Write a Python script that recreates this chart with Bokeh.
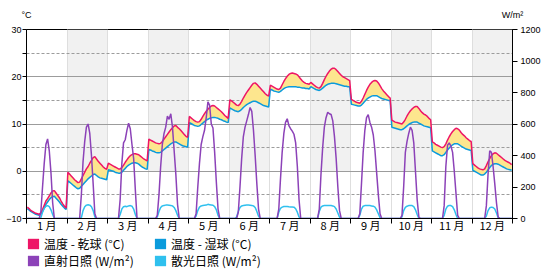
import numpy as np
from bokeh.plotting import figure
from bokeh.layouts import column
from bokeh.models import (Range1d, LinearAxis, FixedTicker, ColumnDataSource,
                          Legend, LegendItem)
from bokeh.embed import file_html
from bokeh.resources import INLINE

# ---------------- data ----------------
month_labels = ["1 月", "2 月", "3 月", "4 月", "5 月", "6 月",
                "7 月", "8 月", "9 月", "10 月", "11 月", "12 月"]
shaded_months = [2, 4, 6, 8, 10, 12]
left_ticks = [-10, 0, 10, 20, 30]
left_minor_ticks = [-5, 5, 15, 25]
right_ticks = [0, 200, 400, 600, 800, 1000, 1200]
unit_labels = ["°C", "W/m²"]

# hourly (0..23) mean daily profile per month
dry_bulb = [
    [-7.6, -7.9, -8.3, -8.5, -8.7, -8.9, -9.0, -9.1, -8.8, -8.1, -7.2, -6.3, -5.8, -5.2, -4.6, -4.2, -4.1, -4.6, -5.1, -5.6, -6.3, -6.9, -7.4, -7.8],
    [-0.2, -0.6, -1.0, -1.4, -1.8, -2.1, -2.4, -2.3, -1.6, -0.9, -0.2, 0.5, 1.0, 1.7, 2.3, 2.9, 3.1, 2.6, 2.1, 1.7, 1.3, 0.9, 0.6, 0.4],
    [1.7, 1.5, 1.3, 1.1, 0.9, 0.7, 0.5, 0.5, 0.8, 1.3, 1.9, 2.4, 2.9, 3.3, 3.5, 3.7, 3.7, 3.6, 3.5, 3.2, 2.9, 2.6, 2.4, 2.2],
    [6.8, 6.6, 6.4, 6.2, 6.0, 5.9, 5.8, 5.9, 6.3, 6.8, 7.3, 7.8, 8.3, 8.8, 9.2, 9.6, 9.7, 9.3, 9.0, 8.6, 8.2, 7.8, 7.4, 7.2],
    [11.6, 11.3, 11.0, 10.7, 10.5, 10.4, 10.5, 11.0, 11.6, 12.2, 12.7, 13.1, 13.5, 13.8, 13.9, 13.8, 13.5, 13.2, 12.9, 12.6, 12.2, 11.8, 11.5, 11.2],
    [15.1, 14.9, 14.6, 14.3, 14.0, 13.9, 14.2, 14.8, 15.5, 16.1, 16.7, 17.2, 17.7, 18.2, 18.6, 18.7, 18.4, 18.0, 17.6, 17.2, 16.8, 16.4, 16.1, 15.9],
    [18.2, 18.0, 17.8, 17.6, 17.4, 17.3, 17.6, 18.3, 19.0, 19.6, 20.1, 20.5, 20.7, 20.8, 20.7, 20.6, 20.4, 20.0, 19.5, 19.1, 18.8, 18.6, 18.5, 18.4],
    [18.8, 18.5, 18.2, 17.9, 17.7, 17.6, 17.9, 18.6, 19.4, 20.1, 20.7, 21.2, 21.6, 21.8, 21.8, 21.5, 21.1, 20.7, 20.3, 20.0, 19.8, 19.6, 19.4, 19.2],
    [15.2, 15.0, 14.8, 14.6, 14.5, 14.4, 14.8, 15.5, 16.3, 17.1, 17.8, 18.4, 18.8, 19.1, 19.2, 19.1, 18.7, 18.1, 17.5, 17.0, 16.6, 16.2, 15.8, 15.5],
    [10.8, 10.6, 10.4, 10.3, 10.2, 10.1, 10.0, 10.4, 11.0, 11.7, 12.3, 12.8, 13.2, 13.5, 13.7, 13.7, 13.3, 12.8, 12.4, 12.1, 11.9, 11.6, 11.2, 10.9],
    [6.2, 6.0, 5.7, 5.5, 5.3, 5.1, 5.0, 5.2, 5.8, 6.6, 7.3, 7.9, 8.4, 8.8, 9.1, 9.0, 8.7, 8.2, 7.8, 7.5, 7.1, 6.8, 6.5, 6.3],
    [1.6, 1.3, 1.0, 0.7, 0.5, 0.4, 0.3, 0.5, 1.2, 2.0, 2.7, 3.3, 3.7, 3.9, 3.8, 3.5, 3.2, 2.9, 2.6, 2.3, 2.1, 1.9, 1.7, 1.4],
]
wet_bulb = [
    [-7.9, -8.2, -8.5, -8.7, -8.9, -9.1, -9.2, -9.3, -9.0, -8.5, -7.8, -7.0, -6.5, -6.0, -5.6, -5.4, -5.3, -5.7, -6.1, -6.5, -7.0, -7.4, -7.8, -8.1],
    [-2.0, -2.3, -2.6, -2.9, -3.2, -3.5, -3.7, -3.6, -3.2, -2.8, -2.4, -2.0, -1.6, -1.3, -1.0, -0.7, -0.6, -0.9, -1.2, -1.4, -1.5, -1.6, -1.7, -1.8],
    [0.3, 0.2, 0.1, 0.0, -0.2, -0.3, -0.4, -0.4, -0.2, 0.2, 0.6, 1.0, 1.3, 1.5, 1.7, 1.8, 1.8, 1.7, 1.5, 1.2, 0.9, 0.7, 0.5, 0.4],
    [4.6, 4.5, 4.3, 4.2, 4.0, 3.9, 3.9, 4.0, 4.3, 4.6, 4.9, 5.2, 5.5, 5.8, 6.0, 6.2, 6.2, 6.0, 5.8, 5.6, 5.4, 5.3, 5.2, 5.1],
    [10.3, 10.1, 9.9, 9.7, 9.6, 9.5, 9.6, 9.9, 10.2, 10.5, 10.8, 11.0, 11.2, 11.3, 11.4, 11.4, 11.3, 11.2, 11.0, 10.9, 10.7, 10.6, 10.4, 10.3],
    [13.4, 13.2, 13.0, 12.8, 12.7, 12.6, 12.8, 13.1, 13.5, 13.8, 14.1, 14.3, 14.5, 14.7, 14.8, 14.8, 14.7, 14.5, 14.3, 14.1, 13.9, 13.8, 13.7, 13.6],
    [17.4, 17.2, 17.0, 16.9, 16.8, 16.7, 16.9, 17.2, 17.5, 17.7, 17.8, 17.9, 17.9, 17.9, 17.9, 17.9, 17.8, 17.8, 17.7, 17.6, 17.6, 17.5, 17.5, 17.4],
    [17.9, 17.7, 17.5, 17.3, 17.2, 17.1, 17.3, 17.6, 17.9, 18.2, 18.4, 18.5, 18.6, 18.6, 18.6, 18.5, 18.4, 18.3, 18.2, 18.1, 18.0, 18.0, 17.9, 17.9],
    [14.2, 14.1, 14.0, 13.9, 13.8, 13.8, 14.0, 14.4, 14.8, 15.2, 15.5, 15.7, 15.9, 16.0, 16.0, 16.0, 15.8, 15.6, 15.4, 15.3, 15.2, 15.1, 15.0, 15.0],
    [9.3, 9.2, 9.1, 9.0, 8.9, 8.8, 8.8, 9.0, 9.3, 9.6, 9.9, 10.1, 10.3, 10.4, 10.4, 10.4, 10.2, 10.0, 9.8, 9.6, 9.5, 9.4, 9.3, 9.2],
    [4.3, 4.1, 3.9, 3.7, 3.5, 3.3, 3.3, 3.5, 4.0, 4.5, 4.9, 5.3, 5.6, 5.8, 5.8, 5.8, 5.6, 5.3, 5.1, 4.9, 4.7, 4.6, 4.5, 4.4],
    [0.2, 0.0, -0.2, -0.4, -0.6, -0.8, -0.8, -0.6, -0.2, 0.3, 0.8, 1.2, 1.5, 1.6, 1.6, 1.5, 1.3, 1.1, 0.9, 0.7, 0.5, 0.4, 0.3, 0.2],
]
direct_rad = [
    [0, 0, 0, 0, 0, 0, 0, 0, 40, 200, 350, 470, 505, 430, 290, 100, 0, 0, 0, 0, 0, 0, 0, 0],
    [0, 0, 0, 0, 0, 0, 0, 0, 150, 360, 490, 580, 600, 540, 400, 220, 30, 0, 0, 0, 0, 0, 0, 0],
    [0, 0, 0, 0, 0, 0, 0, 120, 350, 480, 500, 560, 605, 570, 470, 380, 180, 0, 0, 0, 0, 0, 0, 0],
    [0, 0, 0, 0, 0, 20, 150, 330, 470, 540, 580, 650, 630, 665, 580, 430, 280, 90, 0, 0, 0, 0, 0, 0],
    [0, 0, 0, 0, 30, 200, 350, 470, 520, 560, 640, 740, 720, 600, 575, 420, 230, 60, 0, 0, 0, 0, 0, 0],
    [0, 0, 0, 0, 0, 40, 200, 380, 520, 580, 620, 660, 705, 680, 560, 400, 220, 60, 0, 0, 0, 0, 0, 0],
    [0, 0, 0, 0, 0, 60, 250, 420, 540, 610, 633, 590, 570, 555, 535, 480, 330, 120, 0, 0, 0, 0, 0, 0],
    [0, 0, 0, 0, 0, 60, 280, 450, 580, 640, 675, 665, 660, 620, 520, 380, 200, 50, 0, 0, 0, 0, 0, 0],
    [0, 0, 0, 0, 0, 30, 220, 420, 560, 640, 660, 610, 580, 530, 430, 290, 150, 30, 0, 0, 0, 0, 0, 0],
    [0, 0, 0, 0, 0, 0, 20, 200, 420, 490, 540, 580, 560, 480, 300, 120, 10, 0, 0, 0, 0, 0, 0, 0],
    [0, 0, 0, 0, 0, 0, 0, 80, 330, 465, 480, 460, 420, 300, 160, 20, 0, 0, 0, 0, 0, 0, 0, 0],
    [0, 0, 0, 0, 0, 0, 0, 0, 80, 280, 430, 420, 330, 220, 100, 10, 0, 0, 0, 0, 0, 0, 0, 0],
]
diffuse_rad = [
    [0, 0, 0, 0, 0, 0, 0, 0, 5, 40, 65, 78, 82, 75, 55, 25, 0, 0, 0, 0, 0, 0, 0, 0],
    [0, 0, 0, 0, 0, 0, 0, 0, 5, 50, 75, 85, 87, 85, 75, 50, 10, 0, 0, 0, 0, 0, 0, 0],
    [0, 0, 0, 0, 0, 0, 0, 25, 60, 75, 78, 75, 80, 82, 78, 60, 25, 0, 0, 0, 0, 0, 0, 0],
    [0, 0, 0, 0, 0, 10, 45, 70, 80, 83, 85, 85, 84, 83, 80, 70, 50, 20, 0, 0, 0, 0, 0, 0],
    [0, 0, 0, 0, 15, 50, 72, 80, 82, 84, 85, 90, 88, 86, 84, 75, 55, 20, 0, 0, 0, 0, 0, 0],
    [0, 0, 0, 0, 10, 45, 70, 80, 82, 84, 85, 85, 84, 83, 80, 70, 45, 15, 0, 0, 0, 0, 0, 0],
    [0, 0, 0, 0, 0, 40, 65, 72, 76, 77, 76, 74, 73, 73, 72, 62, 40, 10, 0, 0, 0, 0, 0, 0],
    [0, 0, 0, 0, 0, 45, 72, 80, 82, 83, 83, 82, 82, 80, 75, 60, 35, 8, 0, 0, 0, 0, 0, 0],
    [0, 0, 0, 0, 0, 20, 60, 78, 82, 83, 83, 82, 80, 78, 72, 55, 30, 5, 0, 0, 0, 0, 0, 0],
    [0, 0, 0, 0, 0, 0, 10, 50, 70, 78, 82, 83, 82, 75, 55, 25, 0, 0, 0, 0, 0, 0, 0, 0],
    [0, 0, 0, 0, 0, 0, 0, 20, 60, 78, 83, 82, 75, 55, 25, 0, 0, 0, 0, 0, 0, 0, 0, 0],
    [0, 0, 0, 0, 0, 0, 0, 0, 15, 50, 68, 72, 70, 60, 35, 5, 0, 0, 0, 0, 0, 0, 0, 0],
]
series_labels = ["温度 - 乾球 (°C)", "温度 - 湿球 (°C)", "直射日照 (W/m²)", "散光日照 (W/m²)"]

# ---------------- styles ----------------
C_DRY = "#ee1566"
C_WET = "#0b9bdc"
C_DIR = "#8c42b8"
C_DIF = "#2fc0ee"
C_FILL = "#fde68e"
TICK_FONT = "Liberation Sans"
CJK_FONT = "Noto Sans CJK JP"

H = 24
x = np.array([m * H + h + 0.5 for m in range(12) for h in range(H)])
src = ColumnDataSource(dict(
    x=x,
    dry=np.concatenate([np.array(v, float) for v in dry_bulb]),
    wet=np.concatenate([np.array(v, float) for v in wet_bulb]),
    direct=np.concatenate([np.array(v, float) for v in direct_rad]),
    diffuse=np.concatenate([np.array(v, float) for v in diffuse_rad]),
))

p = figure(width=560, height=235, output_backend="svg", toolbar_location=None,
           x_range=Range1d(0, 12 * H), y_range=Range1d(left_ticks[0], left_ticks[-1]),
           min_border_left=26, min_border_right=48, min_border_top=29, min_border_bottom=17)
p.extra_y_ranges = {"rad": Range1d(right_ticks[0], right_ticks[-1])}
p.outline_line_color = "black"
p.outline_line_width = 1
p.background_fill_color = "white"
p.border_fill_color = "white"
p.title.visible = False

# shaded month bands (0 .. 30 °C)
band_src = ColumnDataSource(dict(
    left=[(m - 1) * H for m in shaded_months],
    right=[m * H for m in shaded_months],
))
p.quad(left="left", right="right", bottom=0, top=left_ticks[-1], source=band_src,
       fill_color="#f1f1f1", line_color=None, level="image")

# temperature
p.varea(x="x", y1="wet", y2="dry", source=src, fill_color=C_FILL)
p.line("x", "wet", source=src, line_color=C_WET, line_width=1.5)
p.line("x", "dry", source=src, line_color=C_DRY, line_width=1.5)
# radiation
p.line("x", "diffuse", source=src, line_color=C_DIF, line_width=1.5, y_range_name="rad")
p.line("x", "direct", source=src, line_color=C_DIR, line_width=1.5, y_range_name="rad")

# x axis: month labels at centres, ticks at month boundaries
centers = [m * H + H // 2 for m in range(12)]
bounds = [m * H for m in range(13)]
xt = FixedTicker(ticks=centers, minor_ticks=bounds)
xa = p.xaxis[0]
xa.ticker = xt
xa.major_label_overrides = {c: lab for c, lab in zip(centers, month_labels)}
xa.major_tick_out = 0
xa.major_tick_in = 0
xa.minor_tick_out = 5
xa.minor_tick_in = 0
xa.major_label_standoff = -7
xa.major_label_text_font = CJK_FONT
xa.major_label_text_font_size = "11px"
xa.major_label_text_color = "black"
xa.axis_line_color = "black"
xa.major_tick_line_color = "black"
xa.minor_tick_line_color = "black"

# unit captions: a bare axis above the frame, labels at both ends
ua = LinearAxis(ticker=FixedTicker(ticks=[0, 12 * H], minor_ticks=[]))
ua.major_label_overrides = {0: unit_labels[0], 12 * H: unit_labels[1]}
ua.axis_line_color = None
ua.major_tick_line_color = None
ua.minor_tick_line_color = None
ua.major_tick_out = 0
ua.major_tick_in = 0
ua.major_label_standoff = 10
ua.major_label_text_font = TICK_FONT
ua.major_label_text_font_size = "9px"
ua.major_label_text_color = "black"
p.add_layout(ua, "above")

yt = FixedTicker(ticks=left_ticks, minor_ticks=left_minor_ticks)
ya = p.yaxis[0]
ya.ticker = yt
ya.major_tick_out = 4
ya.major_tick_in = 0
ya.minor_tick_out = 4
ya.minor_tick_in = 0
ya.major_label_standoff = 1
ya.major_label_text_font = TICK_FONT
ya.major_label_text_font_size = "9px"
ya.major_label_text_color = "black"
ya.axis_line_color = "black"

ra = LinearAxis(y_range_name="rad", ticker=FixedTicker(ticks=right_ticks, minor_ticks=[]))
ra.major_tick_out = 5
ra.major_tick_in = 0
ra.minor_tick_out = 0
ra.minor_tick_in = 0
ra.major_label_standoff = 3
ra.major_label_text_font = TICK_FONT
ra.major_label_text_font_size = "9px"
ra.major_label_text_color = "black"
ra.axis_line_color = "black"
p.add_layout(ra, "right")

# grids
p.xgrid.ticker = xt
p.xgrid.grid_line_color = None
p.xgrid.minor_grid_line_color = "#dedede"
p.ygrid.ticker = yt
p.ygrid.grid_line_color = "#9c9c9c"
p.ygrid.minor_grid_line_color = "#9c9c9c"
p.ygrid.minor_grid_line_dash = "3 2"

# ---------------- legend strip ----------------
lg = figure(width=560, height=45, output_backend="svg", toolbar_location=None,
            x_axis_location=None, y_axis_location=None,
            x_range=Range1d(0, 1), y_range=Range1d(0, 1),
            min_border_left=25, min_border_right=0, min_border_top=0, min_border_bottom=0)
lg.outline_line_color = None
lg.grid.visible = False
lg.title.visible = False
lg.background_fill_color = "white"
lg.border_fill_color = "white"

proxy_src = ColumnDataSource(dict(l=[np.nan], r=[np.nan], b=[np.nan], t=[np.nan]))
proxies = []
for c in [C_DRY, C_WET, C_DIR, C_DIF]:
    proxies.append(lg.quad(left="l", right="r", bottom="b", top="t", source=proxy_src,
                           fill_color=c, line_color=None))

order = [0, 2, 1, 3]
leg = Legend(items=[LegendItem(label=series_labels[i], renderers=[proxies[i]]) for i in order],
             location="top_left", orientation="vertical", ncols=2,
             glyph_width=14, glyph_height=13, label_standoff=4, spacing=0,
             label_width=109, label_height=13,
             padding=0, margin=0, border_line_alpha=0, background_fill_alpha=0,
             label_text_font=CJK_FONT, label_text_font_size="12px",
             label_text_color="black")
lg.add_layout(leg)

layout = column(p, lg, spacing=0)
open("out.html", "w").write(file_html(layout, INLINE))
